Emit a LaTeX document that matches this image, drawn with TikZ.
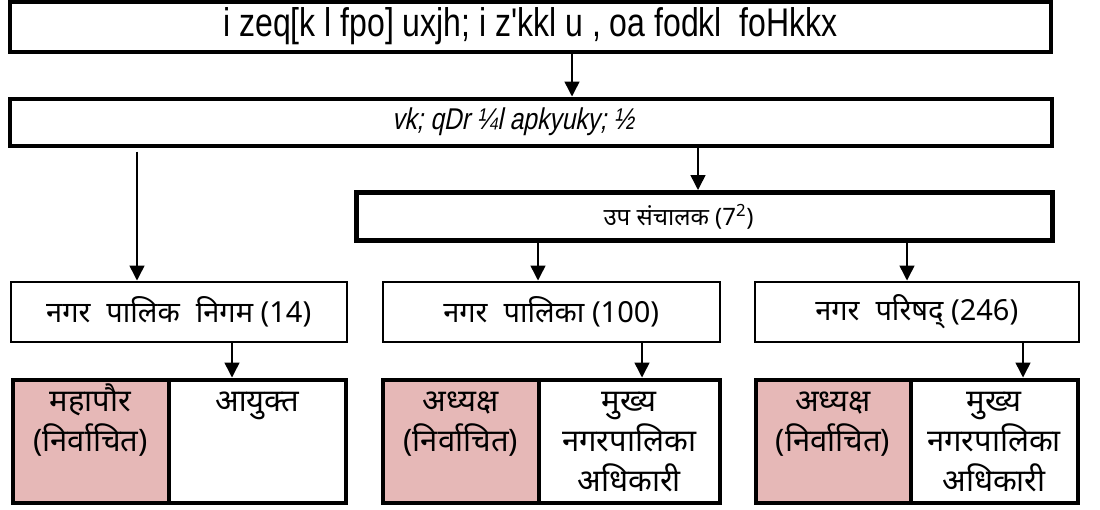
\documentclass[tikz,border=0pt]{standalone}
\usepackage{fontspec}
\setmainfont{Liberation Sans}
\newfontfamily\deva[Script=Devanagari]{Noto Sans}
\newfontfamily\legacy[FakeStretch=0.8]{Liberation Sans}
\newfontfamily\legacyit[FakeStretch=0.82,FakeSlant=0.2]{Liberation Sans}
\usetikzlibrary{arrows.meta}

\definecolor{electpink}{HTML}{E6B8B7}
\newcommand{\wsp}{\hspace{0.55em}}
% centred lines whose baseline is that of the first line
\newcommand{\linesfromtop}[1]{\vtop{\halign{\hfil##\hfil\cr#1\crcr}}}

\begin{document}
\begin{tikzpicture}[x=1pt,y=-1pt,
  heavybox/.style={draw,line width=4pt,inner sep=0pt,anchor=center},
  lightbox/.style={draw,line width=2pt,inner sep=0pt,anchor=center,
    font=\deva\fontsize{29}{32}\selectfont},
  postbox/.style={draw,line width=4pt,inner sep=0pt,anchor=center,
    minimum height=123pt},
  posttext/.style={anchor=base,inner sep=0pt,
    font=\deva\fontsize{31}{40}\selectfont},
  conn/.style={line width=1.5pt,-{Triangle[length=15pt,width=15pt]}}]

\useasboundingbox (0,0) rectangle (1100,509);

% ministry and directorate
\node[heavybox,minimum width=1041pt,minimum height=50pt,
  font=\legacy\fontsize{40}{44}\selectfont] (dept) at (530.5,26.5)
  {i zeq[k l fpo] uxjh; i z'kkl u , oa fodkl \ foHkkx};
\node[heavybox,minimum width=1042pt,minimum height=47pt,
  font=\legacyit\fontsize{30}{34}\selectfont] (dir) at (531,122)
  {vk; qDr ¼l apkyuky; ½\hspace*{36pt}};
\node[heavybox,line width=5pt,minimum width=696pt,minimum height=48pt,
  font=\deva\fontsize{24}{28}\selectfont] (dd) at (704.5,216.5)
  {उप संचालक (7\textsuperscript{2})\hspace*{52pt}};

% urban bodies
\node[lightbox,minimum width=335.5pt,minimum height=60pt] (nigam) at (178.75,311.5)
  {नगर\wsp पालिक\wsp निगम (14)};
\node[lightbox,minimum width=336.5pt,minimum height=60pt] (palika) at (551.25,311.5)
  {नगर\wsp पालिका (100)};
\node[lightbox,minimum width=324.5pt,minimum height=60pt] (parishad) at (916.75,311.5)
  {नगर\wsp परिषद् (246)};

% office holders
\node[postbox,fill=electpink,minimum width=156pt] (mayor) at (90.5,441) {};
\node[postbox,minimum width=177pt] (commr) at (257,441) {};
\node[postbox,fill=electpink,minimum width=155.5pt] (chairA) at (460.75,441) {};
\node[postbox,minimum width=181.5pt] (cmoA) at (629.25,441) {};
\node[postbox,fill=electpink,minimum width=155pt] (chairB) at (833,441) {};
\node[postbox,minimum width=167pt] (cmoB) at (994,441) {};

\node[posttext] (mayorT) at ([yshift=-34pt]mayor.north)
  {\linesfromtop{महापौर\cr(निर्वाचित)}};
\node[posttext] (commrT) at ([yshift=-34pt]commr.north) {आयुक्त};
\node[posttext] (chairAT) at ([yshift=-34pt]chairA.north)
  {\linesfromtop{अध्यक्ष\cr(निर्वाचित)}};
\node[posttext] (cmoAT) at ([yshift=-34pt]cmoA.north)
  {\linesfromtop{मुख्य\cr नगरपालिका\cr अधिकारी}};
\node[posttext] (chairBT) at ([yshift=-34pt]chairB.north)
  {\linesfromtop{अध्यक्ष\cr(निर्वाचित)}};
\node[posttext] (cmoBT) at ([yshift=-34pt]cmoB.north)
  {\linesfromtop{मुख्य\cr नगरपालिका\cr अधिकारी}};

% columns of the connectors
\coordinate (c1) at (572,0);
\coordinate (c2) at (698,0);
\coordinate (c3) at (137,0);
\coordinate (c4) at (538,0);
\coordinate (c5) at (907,0);
\coordinate (c6) at (232,0);
\coordinate (c7) at (642,0);
\coordinate (c8) at (1023,0);

\draw[conn] (dept.south -| c1) -- (dir.north -| c1);
\draw[conn] (dir.south -| c2) -- (dd.north -| c2);
\draw[conn] ([yshift=-4pt]dir.south -| c3) -- (nigam.north -| c3);
\draw[conn] (dd.south -| c4) -- (palika.north -| c4);
\draw[conn] (dd.south -| c5) -- (parishad.north -| c5);
\draw[conn] (nigam.south -| c6) -- (commr.north -| c6);
\draw[conn] (palika.south -| c7) -- (cmoA.north -| c7);
\draw[conn] (parishad.south -| c8) -- (cmoB.north -| c8);
\end{tikzpicture}
\end{document}
